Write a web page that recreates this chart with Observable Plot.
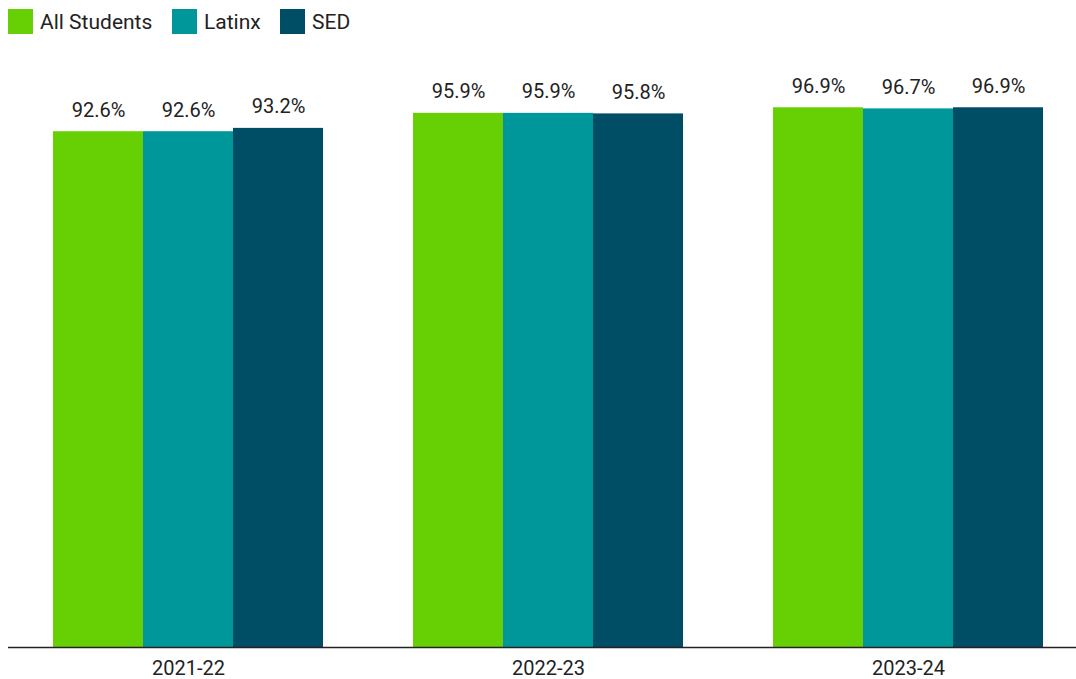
<!DOCTYPE html>
<html><head><meta charset="utf-8">
<script src="https://cdn.jsdelivr.net/npm/d3@7"></script>
<script src="https://cdn.jsdelivr.net/npm/@observablehq/plot@0.6"></script>
<style>
html,body{margin:0;padding:0;background:#fff;overflow:hidden;font-family:Roboto,sans-serif;}
#legend{height:43px;position:relative;}
.item{position:absolute;top:9px;display:flex;align-items:center;font-size:21px;color:#222;}
.sw{width:25px;height:25px;margin-right:7px;}
</style></head>
<body>
<div id="legend"></div>
<div id="chart"></div>
<script>
const years = ["2021-22", "2022-23", "2023-24"];
const groups = ["All Students", "Latinx", "SED"];
const colors = ["#66D005", "#00979B", "#004E66"];
const allStudents = [92.6, 95.9, 96.9];
const latinx = [92.6, 95.9, 96.7];
const sed = [93.2, 95.8, 96.9];

const series = [allStudents, latinx, sed];
const data = [];
years.forEach((y, i) => groups.forEach((g, j) => data.push({key: y + "|" + g, year: y, group: g, value: series[j][i]})));

// band domain: three bars per year, with an empty slot between years
const xDomain = [];
years.forEach((y, i) => {
  if (i > 0) xDomain.push("gap" + i);
  groups.forEach(g => xDomain.push(y + "|" + g));
});
const tickKeys = years.map(y => y + "|" + groups[1]);

const legendX = [8, 172, 280];
const lg = document.getElementById("legend");
groups.forEach((g, j) => {
  const d = document.createElement("div");
  d.className = "item";
  d.style.left = legendX[j] + "px";
  d.innerHTML = `<div class="sw" style="background:${colors[j]}"></div><span>${g}</span>`;
  lg.appendChild(d);
});

const chart = Plot.plot({
  width: 1088,
  height: 636,
  marginLeft: 8,
  marginRight: 0,
  marginTop: 47,
  marginBottom: 32,
  style: {fontFamily: "Roboto, sans-serif", fontSize: "20px", color: "#222", background: "#fff", maxWidth: "none", overflow: "visible"},
  x: {domain: xDomain, paddingInner: 0, paddingOuter: 0.5, axis: null},
  y: {domain: [0, 100], axis: null},
  color: {domain: groups, range: colors},
  marks: [
    Plot.barY(data, {x: "key", y: "value", fill: "group"}),
    Plot.text(data, {x: "key", y: "value", text: d => d.value.toFixed(1) + "%", lineAnchor: "bottom", dy: -15, fill: "#222", fontSize: 20}),
    Plot.axisX({ticks: tickKeys, tickFormat: k => k.split("|")[0], tickSize: 0, tickPadding: 13, fontSize: 20, label: null, fill: "#222"}),
    Plot.ruleY([0], {stroke: "#222", strokeWidth: 1.5})
  ]
});
document.getElementById("chart").appendChild(chart);
</script>
</body></html>
